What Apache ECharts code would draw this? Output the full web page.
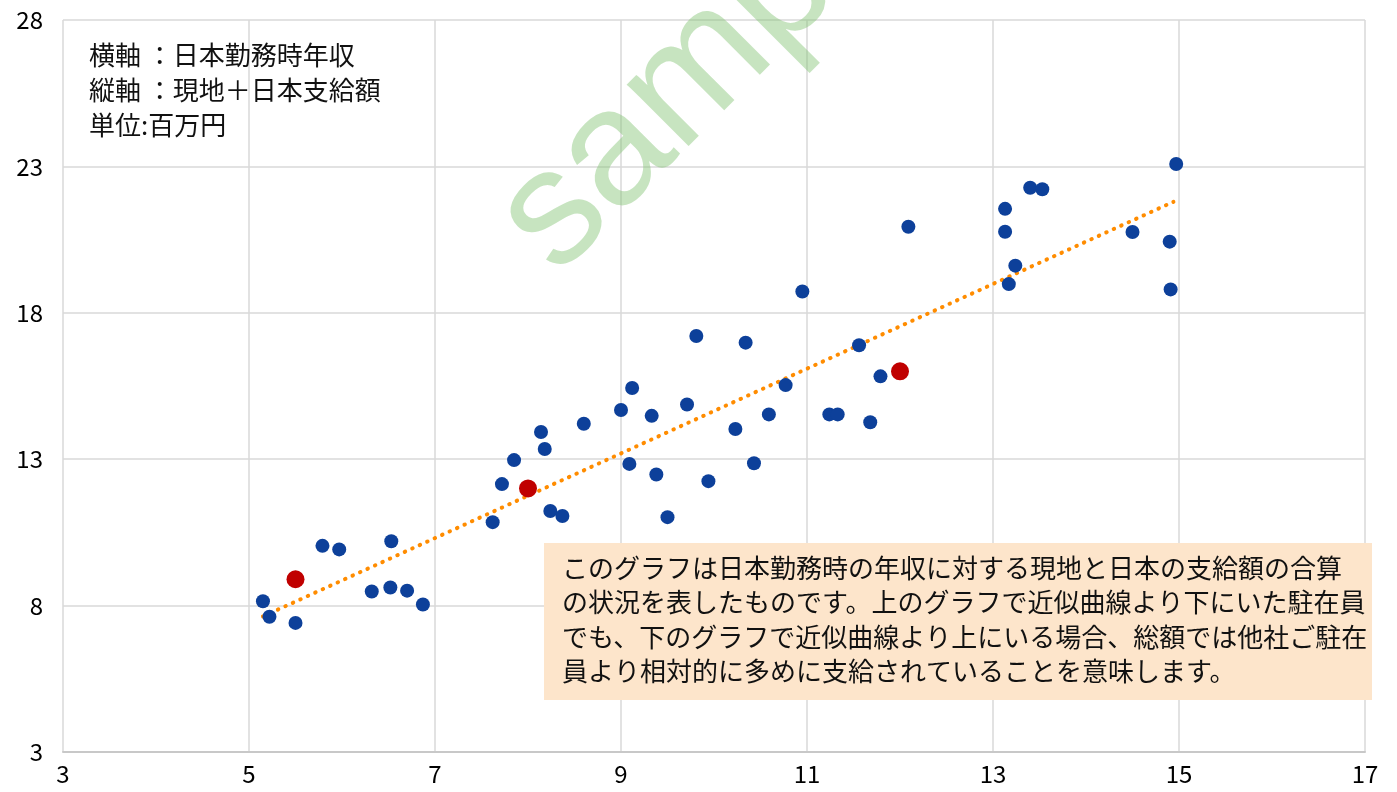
<!DOCTYPE html>
<html>
<head>
<meta charset="utf-8">
<script src="https://cdn.jsdelivr.net/npm/echarts@6/dist/echarts.min.js"></script>
<style>
  html, body { margin: 0; padding: 0; background: #fff; }
  #main { width: 1397px; height: 792px; }
</style>
</head>
<body>
<div id="main"></div>
<script>
// 日本勤務時年収 (x) と 現地+日本支給額 (y)、単位：百万円
var blueX = [5.15, 5.22, 5.50, 5.79, 5.97, 6.32, 6.52, 6.53, 6.70, 6.87,
             7.62, 7.72, 7.85, 8.14, 8.18, 8.24, 8.37, 8.60, 9.00, 9.09,
             9.12, 9.33, 9.38, 9.50, 9.71, 9.81, 9.94, 10.23, 10.34, 10.43,
             10.59, 10.77, 10.95, 11.24, 11.33, 11.56, 11.68, 11.79, 12.09, 13.13,
             13.13, 13.17, 13.24, 13.40, 13.53, 14.50, 14.90, 14.91, 14.97];
var blueY = [8.15, 7.62, 7.41, 10.04, 9.92, 8.48, 8.62, 10.20, 8.51, 8.04,
             10.85, 12.15, 12.97, 13.93, 13.35, 11.23, 11.06, 14.21, 14.68, 12.84,
             15.43, 14.48, 12.48, 11.02, 14.87, 17.21, 12.25, 14.03, 16.98, 12.86,
             14.53, 15.53, 18.73, 14.53, 14.53, 16.89, 14.26, 15.83, 20.94, 21.55,
             20.77, 18.98, 19.61, 22.27, 22.22, 20.76, 20.43, 18.80, 23.08];
var redX = [5.5, 8.0, 12.0];
var redY = [8.9, 12.0, 16.0];
var trendX = [5.15, 14.94];
var trendY = [7.63, 21.79];
var xTicks = [3, 17, 2];   // min, max, interval
var yTicks = [3, 28, 5];

var noteLines = ['横軸 ：日本勤務時年収', '縦軸 ：現地＋日本支給額', '単位:百万円'];
var boxLines = [
  'このグラフは日本勤務時の年収に対する現地と日本の支給額の合算',
  'の状況を表したものです。上のグラフで近似曲線より下にいた駐在員',
  'でも、下のグラフで近似曲線より上にいる場合、総額では他社ご駐在',
  '員より相対的に多めに支給されていることを意味します。'
];

function pairs(xs, ys) {
  var out = [];
  for (var i = 0; i < xs.length; i++) out.push([xs[i], ys[i]]);
  return out;
}

var font = '"Noto Sans CJK JP", "Noto Sans", sans-serif';
var chart = echarts.init(document.getElementById('main'));

var option = {
  animation: false,
  backgroundColor: '#fff',
  grid: { left: 63, right: 32, top: 20, bottom: 40 },
  xAxis: {
    type: 'value', min: xTicks[0], max: xTicks[1], interval: xTicks[2],
    axisLine: { show: true, lineStyle: { color: '#c8c8c8', width: 2 } },
    axisTick: { show: false },
    splitLine: { show: true, lineStyle: { color: '#d9d9d9', width: 1.5 } },
    axisLabel: { color: '#000', fontSize: 24, fontFamily: font, margin: 10 }
  },
  yAxis: {
    type: 'value', min: yTicks[0], max: yTicks[1], interval: yTicks[2],
    axisLine: { show: false },
    axisTick: { show: false },
    splitLine: { show: true, lineStyle: { color: '#d9d9d9', width: 1.5 } },
    axisLabel: { color: '#000', fontSize: 24, fontFamily: font, margin: 20 }
  },
  graphic: [
    {
      type: 'text', x: 525, y: 245, rotation: Math.PI / 4,
      z: 1, silent: true,
      style: { text: 'sample', fontSize: 165, fontFamily: 'Liberation Sans, Arial, sans-serif',
               fill: 'rgba(130, 195, 115, 0.45)', align: 'left', verticalAlign: 'middle' }
    },
    {
      type: 'text', left: 89, top: 38, z: 10,
      style: { text: noteLines.join('\n'), fontSize: 26, lineHeight: 35, fontFamily: font, fill: '#111' }
    },
    {
      type: 'rect', left: 544, top: 543, z: 10,
      shape: { width: 828, height: 157 },
      style: { fill: '#fde5cb' }
    },
    {
      type: 'text', left: 562, top: 551, z: 11,
      style: { text: boxLines.join('\n'), fontSize: 26, lineHeight: 34.3, fontFamily: font, fill: '#111' }
    }
  ],
  series: [
    {
      type: 'line', data: pairs(trendX, trendY), symbol: 'none', z: 3,
      lineStyle: { color: '#ff8c00', width: 4, cap: 'round', type: [0.5, 7.7] }
    },
    {
      type: 'scatter', data: pairs(blueX, blueY), symbolSize: 14, z: 4,
      itemStyle: { color: '#0d409a', opacity: 1 }
    },
    {
      type: 'scatter', data: pairs(redX, redY), symbolSize: 18, z: 5,
      itemStyle: { color: '#c00000', opacity: 1 }
    }
  ]
};
chart.setOption(option);
</script>
</body>
</html>
